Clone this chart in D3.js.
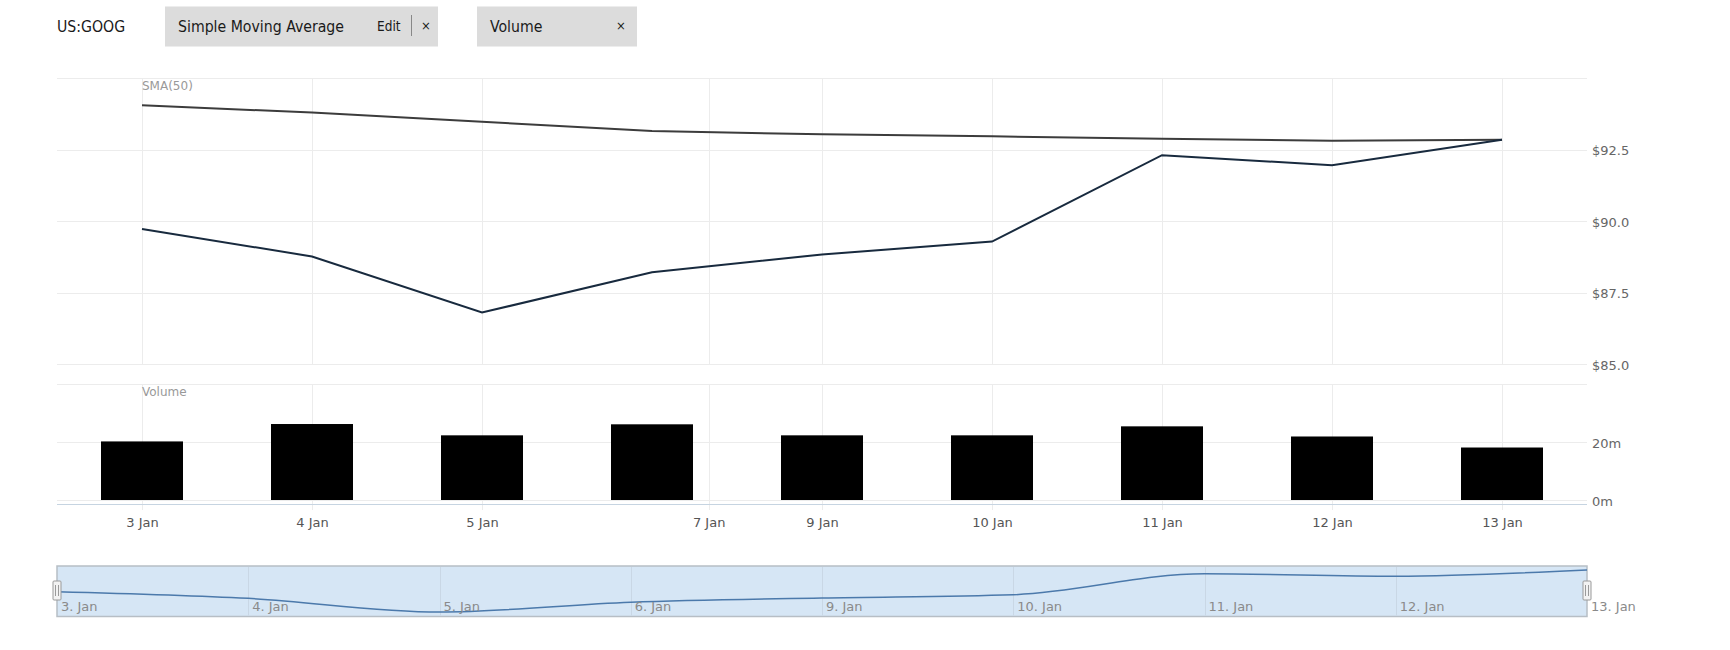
<!DOCTYPE html>
<html>
<head>
<meta charset="utf-8">
<script src="https://cdn.jsdelivr.net/npm/d3@7"></script>
<style>
  html, body { margin: 0; padding: 0; background: #fff; }
  svg { display: block; }
  .hdr { font-family: "DejaVu Sans Condensed", "Liberation Sans", sans-serif; fill: #1a1a1a; }
  .ax { font-family: "DejaVu Sans", sans-serif; }
</style>
</head>
<body>
<svg id="chart" width="1730" height="650"></svg>
<script>
// ---------- data ----------
const symbol = "US:GOOG";
const dates = ["2023-01-03","2023-01-04","2023-01-05","2023-01-06","2023-01-09","2023-01-10","2023-01-11","2023-01-12","2023-01-13"];
const price = [89.72, 88.76, 86.80, 88.21, 88.83, 89.28, 92.30, 91.95, 92.84];
const sma50 = [94.05, 93.79, 93.47, 93.15, 93.03, 92.96, 92.88, 92.81, 92.84];
const volumeM = [20.2, 26.2, 22.3, 26.1, 22.3, 22.3, 25.4, 21.9, 18.1];
const xTickDates = ["2023-01-03","2023-01-04","2023-01-05","2023-01-07","2023-01-09","2023-01-10","2023-01-11","2023-01-12","2023-01-13"];
const xTickLabels = ["3 Jan","4 Jan","5 Jan","7 Jan","9 Jan","10 Jan","11 Jan","12 Jan","13 Jan"];
const priceTicks = [85, 87.5, 90, 92.5];
const volumeTicks = [0, 20];
const navLabels = ["3. Jan","4. Jan","5. Jan","6. Jan","9. Jan","10. Jan","11. Jan","12. Jan","13. Jan"];

// ---------- layout ----------
const svg = d3.select("#chart");
const L = 57, R = 1587;
const mainTop = 78, mainBot = 364;
const volTop = 384, volBot = 500, axisY = 504;
const navTop = 566, navBot = 616.5;
const parse = d3.utcParse("%Y-%m-%d");
const dv = dates.map(parse);
const n = dates.length;
const step = (R - L) / n;
const idx = d3.scaleLinear().domain([0, n - 1]).range([L + step / 2, R - step / 2]);
// piecewise-linear date scale: trading days equally spaced, weekend compressed
const x = d3.scaleUtc().domain(dv).range(dv.map((d, i) => idx(i)));

const y = d3.scaleLinear().domain([85, 95]).range([mainBot, mainTop]);
const yv = d3.scaleLinear().domain([0, 40]).range([volBot, volTop]);

const gridC = "#ececec";

// ---------- header ----------
const hdr = svg.append("g");
hdr.append("text").attr("class", "hdr").attr("x", 57).attr("y", 31.5).attr("font-size", 15.7).text(symbol);
hdr.append("rect").attr("x", 165).attr("y", 6.5).attr("width", 273).attr("height", 40).attr("fill", "#dcdcdc");
hdr.append("text").attr("class", "hdr").attr("x", 178).attr("y", 31.5).attr("font-size", 15.7).text("Simple Moving Average");
hdr.append("text").attr("class", "hdr").attr("x", 377).attr("y", 30.5).attr("font-size", 13.5).text("Edit");
hdr.append("line").attr("x1", 411.5).attr("x2", 411.5).attr("y1", 15).attr("y2", 36).attr("stroke", "#888").attr("stroke-width", 1);
hdr.append("text").attr("class", "hdr").attr("x", 421).attr("y", 30).attr("font-size", 13).text("×");
hdr.append("rect").attr("x", 477).attr("y", 6.5).attr("width", 160).attr("height", 40).attr("fill", "#dcdcdc");
hdr.append("text").attr("class", "hdr").attr("x", 490).attr("y", 31.5).attr("font-size", 15.7).text("Volume");
hdr.append("text").attr("class", "hdr").attr("x", 616).attr("y", 30).attr("font-size", 13).text("×");

// ---------- grids ----------
const grid = svg.append("g");
grid.selectAll("line.hm").data(priceTicks.concat([95])).join("line")
  .attr("x1", L).attr("x2", R).attr("y1", d => Math.round(y(d)) + 0.5).attr("y2", d => Math.round(y(d)) + 0.5)
  .attr("stroke", gridC);
grid.selectAll("line.hv").data(volumeTicks.concat([40])).join("line")
  .attr("x1", L).attr("x2", R).attr("y1", d => Math.round(yv(d)) + 0.5).attr("y2", d => Math.round(yv(d)) + 0.5)
  .attr("stroke", gridC);
const tickX = xTickDates.map(parse);
grid.selectAll("line.vm").data(tickX).join("line")
  .attr("x1", d => Math.round(x(d)) + 0.5).attr("x2", d => Math.round(x(d)) + 0.5)
  .attr("y1", mainTop).attr("y2", mainBot).attr("stroke", gridC);
svg.append("g").selectAll("line").data(tickX).join("line")
  .attr("x1", d => Math.round(x(d)) + 0.5).attr("x2", d => Math.round(x(d)) + 0.5)
  .attr("y1", volTop).attr("y2", axisY + 6).attr("stroke", gridC);

// panel labels
svg.append("text").attr("class", "ax").attr("x", 142).attr("y", 90).attr("font-size", 12).attr("fill", "#999").text("SMA(50)");
svg.append("text").attr("class", "ax").attr("x", 142).attr("y", 396).attr("font-size", 12).attr("fill", "#999").text("Volume");

// ---------- y axes (right) ----------
const yAxis = d3.axisRight(y).tickValues(priceTicks).tickSize(0).tickPadding(0).tickFormat(d => "$" + d3.format(".1f")(d));
const gy = svg.append("g").attr("transform", `translate(${1592},0)`).call(yAxis);
gy.select(".domain").remove();
gy.selectAll("text").attr("class", "ax").attr("font-size", 13).attr("fill", "#666").attr("dy", "0.4em");

const yvAxis = d3.axisRight(yv).tickValues(volumeTicks).tickSize(0).tickPadding(0).tickFormat(d => d + "m");
const gyv = svg.append("g").attr("transform", `translate(${1592},0)`).call(yvAxis);
gyv.select(".domain").remove();
gyv.selectAll("text").attr("class", "ax").attr("font-size", 13).attr("fill", "#666").attr("dy", "0.4em");

// ---------- volume bars ----------
const bw = 82;
svg.append("g").selectAll("rect").data(volumeM).join("rect")
  .attr("x", (d, i) => x(dv[i]) - bw / 2).attr("width", bw)
  .attr("y", d => yv(d)).attr("height", d => yv(0) - yv(d))
  .attr("fill", "#000");

// axis line
svg.append("line").attr("x1", L).attr("x2", R).attr("y1", axisY + 0.5).attr("y2", axisY + 0.5).attr("stroke", "#c6d4e1").attr("stroke-width", 1);

// x axis labels
const xAxis = d3.axisBottom(x).tickValues(tickX).tickSize(0).tickPadding(0).tickFormat((d, i) => xTickLabels[i]);
const gx = svg.append("g").attr("transform", `translate(0,${515})`).call(xAxis);
gx.select(".domain").remove();
gx.selectAll("text").attr("class", "ax").attr("font-size", 13).attr("fill", "#555").attr("dy", "0.95em");

// ---------- lines ----------
const lineP = d3.line().x((d, i) => x(dv[i])).y(d => y(d));
svg.append("path").datum(sma50).attr("d", lineP).attr("fill", "none").attr("stroke", "#3c3c3c").attr("stroke-width", 2);
svg.append("path").datum(price).attr("d", lineP).attr("fill", "none").attr("stroke", "#182a3e").attr("stroke-width", 2);

// ---------- navigator ----------
const nx = d3.scalePoint().domain(dates).range([L, R]);
const ny = d3.scaleLinear().domain(d3.extent(price)).range([612, 570]);
const nav = svg.append("g");
nav.append("rect").attr("x", L).attr("y", navTop).attr("width", R - L).attr("height", navBot - navTop)
  .attr("fill", "#d6e6f5").attr("stroke", "#b7bec5").attr("stroke-width", 1.5);
nav.selectAll("line.ng").data(dates.slice(1, -1)).join("line")
  .attr("x1", d => Math.round(nx(d)) + 0.5).attr("x2", d => Math.round(nx(d)) + 0.5)
  .attr("y1", navTop + 1).attr("y2", navBot - 1).attr("stroke", "#c9d7e5");
nav.append("path").datum(price)
  .attr("d", d3.line().x((d, i) => nx(dates[i])).y(d => ny(d)).curve(d3.curveMonotoneX))
  .attr("fill", "none").attr("stroke", "#4b79ab").attr("stroke-width", 1.5);
nav.selectAll("text").data(navLabels).join("text")
  .attr("class", "ax").attr("x", (d, i) => nx(dates[i]) + 4).attr("y", 611)
  .attr("font-size", 13).attr("fill", "#8a8a8a").text(d => d);
// handles
[L, R].forEach(hx => {
  nav.append("rect").attr("x", hx - 4).attr("y", 581).attr("width", 8).attr("height", 19)
    .attr("fill", "#f2f2f2").attr("stroke", "#9a9a9a").attr("stroke-width", 1).attr("rx", 1);
  nav.append("line").attr("x1", hx - 1.5).attr("x2", hx - 1.5).attr("y1", 585).attr("y2", 596).attr("stroke", "#9a9a9a");
  nav.append("line").attr("x1", hx + 1.5).attr("x2", hx + 1.5).attr("y1", 585).attr("y2", 596).attr("stroke", "#9a9a9a");
});
</script>
</body>
</html>
